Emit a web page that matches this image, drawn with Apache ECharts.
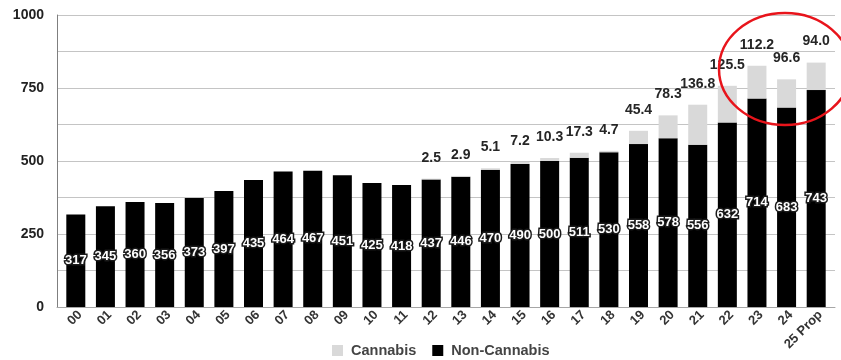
<!DOCTYPE html>
<html>
<head>
<meta charset="utf-8">
<script src="https://cdn.jsdelivr.net/npm/echarts@6/dist/echarts.min.js"></script>
<style>
  html, body { margin: 0; padding: 0; background: #fff; }
  #chart { width: 841px; height: 360px; }
</style>
</head>
<body>
<div id="chart"></div>
<script>
// Year labels along the category axis
const years = ['00','01','02','03','04','05','06','07','08','09','10','11','12',
  '13','14','15','16','17','18','19','20','21','22','23','24','25 Prop'];

// Non-cannabis totals per year
const nonCannabis = [317,345,360,356,373,397,435,464,467,451,425,418,437,
  446,470,490,500,511,530,558,578,556,632,714,683,743];

// Cannabis totals per year (none before 2012)
const cannabis = [null,null,null,null,null,null,null,null,null,null,null,null,2.5,
  2.9,5.1,7.2,10.3,17.3,4.7,45.4,78.3,136.8,125.5,112.2,96.6,94.0];

// Value axis ticks
const yTicks = [0, 250, 500, 750, 1000];

const FONT = '"Liberation Sans", Arial, sans-serif';
const chart = echarts.init(document.getElementById('chart'));

chart.setOption({
  animation: false,
  textStyle: { fontFamily: FONT },
  grid: [
    // frame with gridlines and axis lines
    { left: 57, right: 6, top: 15, bottom: 53 },
    // bars
    { left: 61, right: 10, top: 15, bottom: 53 }
  ],
  legend: {
    data: ['Cannabis', 'Non-Cannabis'],
    left: 327,
    bottom: -3,
    itemWidth: 11,
    itemHeight: 11,
    itemGap: 16,
    icon: 'rect',
    textStyle: {
      fontSize: 14.5, fontWeight: 'bold', color: '#444', fontFamily: FONT,
      padding: [0, 0, 0, 3]
    }
  },
  xAxis: [
    {
      gridIndex: 0, type: 'value', min: 0, max: 1,
      axisLine: { show: true, lineStyle: { color: '#a6a6a6', width: 1 } },
      axisTick: { show: false }, axisLabel: { show: false }, splitLine: { show: false }
    },
    {
      gridIndex: 1, type: 'category', data: years,
      axisLine: { show: false }, axisTick: { show: false },
      axisLabel: {
        rotate: 45, interval: 0, margin: 10,
        padding: [0, -6, 0, 0],
        fontSize: 13, fontWeight: 'bold', color: '#333', fontFamily: FONT
      }
    }
  ],
  yAxis: [
    {
      gridIndex: 0, type: 'value', min: 0, max: 1000, interval: 125,
      axisLine: { show: true, lineStyle: { color: '#7f7f7f', width: 1 } },
      axisTick: { show: false },
      axisLabel: {
        margin: 13, fontSize: 14, fontWeight: 'bold', color: '#222', fontFamily: FONT,
        formatter: v => (yTicks.indexOf(v) >= 0 ? String(v) : '')
      },
      splitLine: { show: true, lineStyle: { color: '#c4c4c4', width: 1 } }
    },
    {
      gridIndex: 1, type: 'value', min: 0, max: 1000,
      show: false, splitLine: { show: false }
    }
  ],
  series: [
    {
      name: 'Non-Cannabis', type: 'bar', stack: 'total',
      xAxisIndex: 1, yAxisIndex: 1,
      data: nonCannabis, barWidth: 19,
      itemStyle: { color: '#000000' },
      label: {
        show: true, position: 'inside',
        fontSize: 13, fontWeight: 'bold', color: '#ffffff', fontFamily: FONT,
        textBorderColor: '#1a1a1a', textBorderWidth: 3
      }
    },
    {
      name: 'Cannabis', type: 'bar', stack: 'total',
      xAxisIndex: 1, yAxisIndex: 1,
      data: cannabis, barWidth: 19,
      itemStyle: { color: '#d9d9d9' },
      label: {
        show: true, position: 'top', distance: 14,
        fontSize: 14, fontWeight: 'bold', color: '#262626', fontFamily: FONT,
        formatter: p => (p.value == null ? '' : Number(p.value).toFixed(1))
      }
    }
  ],
  graphic: [
    {
      type: 'ellipse',
      shape: { cx: 785, cy: 69, rx: 66, ry: 56 },
      style: { fill: 'none', stroke: '#e8141b', lineWidth: 2.5 },
      z: 100
    }
  ]
});
</script>
</body>
</html>
